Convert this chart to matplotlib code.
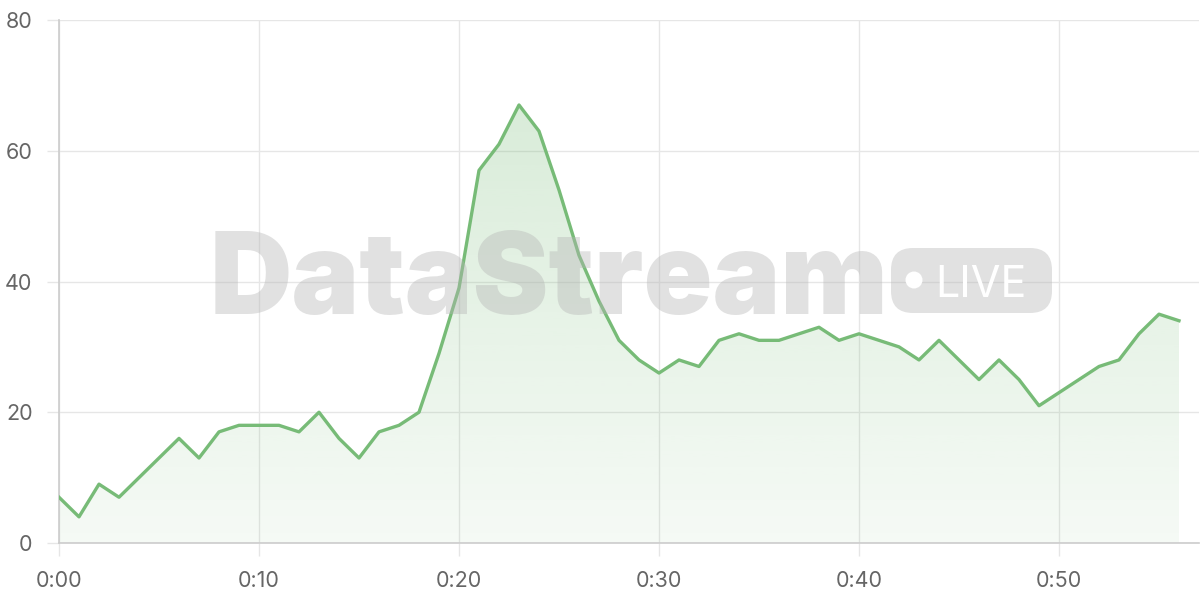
import numpy as np
import matplotlib.pyplot as plt
from matplotlib.patches import FancyBboxPatch, Circle

# one reading per minute, 0:00 .. 0:56
minutes = list(range(57))
values = [7, 4, 9, 7, 10, 13, 16, 13, 17, 18, 18, 18, 17, 20, 16, 13, 17, 18, 20, 29,
          39, 57, 61, 67, 63, 54, 44, 37, 31, 28, 26, 28, 27, 31, 32, 31, 31, 32, 33, 31,
          32, 31, 30, 28, 31, 28, 25, 28, 25, 21, 23, 25, 27, 28, 32, 35, 34]
xticks = [0, 10, 20, 30, 40, 50]
xtick_labels = ["0:00", "0:10", "0:20", "0:30", "0:40", "0:50"]
yticks = [0, 20, 40, 60, 80]

line_color = "#77bb77"
grid_color = "#e6e6e6"
plt.rcParams["font.family"] = ["Inter", "DejaVu Sans"]

fig = plt.figure(figsize=(12, 6), dpi=100)
ax = fig.add_axes([59 / 1200, 57 / 600, 1140 / 1200, 523 / 600])
ax.set_xlim(0, 57)
ax.set_ylim(0, 80)

# gradient fill under the line
poly = ax.fill_between(minutes, values, 0, color="none", lw=0)
grad = np.zeros((256, 1, 4))
grad[:, 0, :3] = np.array([119, 187, 119]) / 255
grad[:, 0, 3] = np.linspace(0.07, 0.32, 256)
img = ax.imshow(grad, extent=[0, 56, 0, 80], origin="lower", aspect="auto", zorder=1)
img.set_clip_path(poly.get_paths()[0], transform=ax.transData)

ax.plot(minutes, values, color=line_color, lw=2.4, zorder=3)

ax.set_xticks(xticks)
ax.set_xticklabels(xtick_labels)
ax.set_yticks(yticks)
ax.grid(True, color=grid_color, lw=1)
ax.set_axisbelow(True)
for s in ["top", "right"]:
    ax.spines[s].set_visible(False)
ax.spines["left"].set_color("#cccccc")
ax.spines["bottom"].set_color("#cccccc")
ax.spines["left"].set_linewidth(1.2)
ax.spines["bottom"].set_linewidth(1.2)
ax.tick_params(axis="both", color=grid_color, length=9, width=1,
               labelsize=15.5, labelcolor="#666666")
ax.tick_params(axis="x", pad=11)
ax.tick_params(axis="y", pad=10)

# watermark, drawn on an overlay in pixel coordinates (y up)
wm = fig.add_axes([0, 0, 1, 1], zorder=5)
wm.set_xlim(0, 1200)
wm.set_ylim(0, 600)
wm.axis("off")
wm.patch.set_alpha(0)
wm_color = "#b4b4b4"
wm.text(210, 600 - 314, "DataStream", fontfamily="Inter", fontweight="black",
        fontsize=82, color=wm_color, alpha=0.4, ha="left", va="baseline")
wm.add_patch(FancyBboxPatch((891, 600 - 313), 161, 65,
                            boxstyle="round,pad=0,rounding_size=22",
                            facecolor=wm_color, alpha=0.4, edgecolor="none"))
wm.add_patch(Circle((914, 600 - 280), 8.5, facecolor="white", edgecolor="none"))
wm.text(935, 600 - 297, "LIVE", fontfamily="Inter", fontsize=31, color="white",
        ha="left", va="baseline")

fig.savefig("out.png", dpi=100)
